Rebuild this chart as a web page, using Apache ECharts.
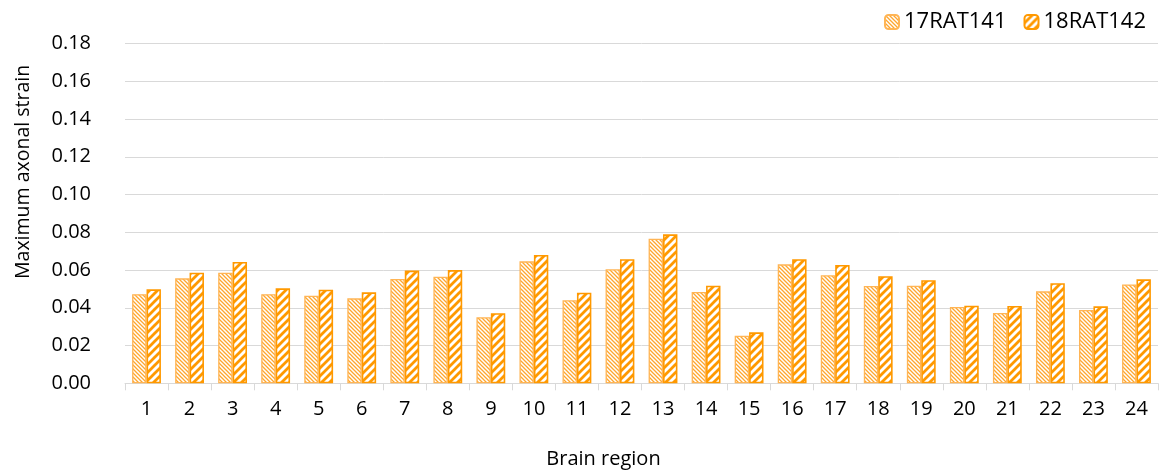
<!DOCTYPE html>
<html><head><meta charset="utf-8">
<script src="https://cdn.jsdelivr.net/npm/echarts@6/dist/echarts.min.js"></script>
<style>html,body{margin:0;padding:0;background:#fff}#c{width:1165px;height:473px}</style>
</head><body><div id="c"></div>
<script>
const categories = ['1','2','3','4','5','6','7','8','9','10','11','12','13','14','15','16','17','18','19','20','21','22','23','24'];
const rat141 = [0.0472,0.0556,0.0586,0.0472,0.0464,0.0450,0.0553,0.0565,0.0350,0.0646,0.0440,0.0604,0.0766,0.0484,0.0252,0.0630,0.0572,0.0516,0.0517,0.0404,0.0372,0.0487,0.0388,0.0524];
const rat142 = [0.0498,0.0586,0.0643,0.0503,0.0496,0.0482,0.0597,0.0600,0.0371,0.0680,0.0480,0.0657,0.0789,0.0517,0.0270,0.0657,0.0627,0.0567,0.0546,0.0411,0.0410,0.0530,0.0408,0.0551];
const seriesNames = ['17RAT141','18RAT142'];

function patA(){
  const c=document.createElement('canvas');c.width=4;c.height=4;const g=c.getContext('2d');
  g.fillStyle='#fff';g.fillRect(0,0,4,4);
  g.strokeStyle='#FFA62E';g.lineWidth=1.3;
  g.beginPath();g.moveTo(-1,-1);g.lineTo(5,5);g.moveTo(-1,3);g.lineTo(1,5);g.moveTo(3,-1);g.lineTo(5,1);g.stroke();
  return c;
}
function patB(){
  const s=8;const c=document.createElement('canvas');c.width=s;c.height=s;const g=c.getContext('2d');
  g.fillStyle='#fff';g.fillRect(0,0,s,s);
  g.strokeStyle='#FF9900';g.lineWidth=2.8;
  g.beginPath();
  for(let k=-1;k<=1;k++){g.moveTo(k*s-1,s+1);g.lineTo(k*s+s+1,-1);}
  g.stroke();
  return c;
}
const chart = echarts.init(document.getElementById('c'));
const font = 'Open Sans';
chart.setOption({
  animation:false,
  textStyle:{fontFamily:font},
  legend:{
    top:6,right:14,itemWidth:14,itemHeight:14,itemGap:17,
    textStyle:{fontSize:22,color:'#000',fontFamily:font},
    data:seriesNames
  },
  grid:{left:125,right:7,top:43.5,bottom:89.7,containLabel:false,outerBoundsMode:'none'},
  xAxis:{
    type:'category',data:categories,
    name:'Brain region',nameLocation:'middle',nameGap:66,
    nameTextStyle:{fontSize:20,color:'#000',fontFamily:font,padding:[0,76,0,0]},
    axisLine:{lineStyle:{color:'#d9d9d9'}},
    axisTick:{show:true,length:7,lineStyle:{color:'#d9d9d9'}},
    axisLabel:{fontSize:20,color:'#000',margin:16,fontFamily:font}
  },
  yAxis:{
    type:'value',min:0,max:0.18,interval:0.02,
    name:'Maximum axonal strain',nameLocation:'middle',nameGap:92,
    nameTextStyle:{fontSize:19.5,color:'#000',fontFamily:font,padding:[0,0,0,83]},
    axisLine:{show:false},axisTick:{show:false},
    splitLine:{lineStyle:{color:'#d9d9d9'}},
    axisLabel:{fontSize:20,color:'#000',margin:34,fontFamily:font,formatter:v=>v.toFixed(2)}
  },
  series:[
    {name:seriesNames[0],type:'bar',data:rat141,barGap:'0%',barCategoryGap:'33%',
     itemStyle:{color:{image:patA(),repeat:'repeat'},borderColor:'#FFB555',borderWidth:1.3}},
    {name:seriesNames[1],type:'bar',data:rat142,barGap:'0%',barCategoryGap:'33%',
     itemStyle:{color:{image:patB(),repeat:'repeat'},borderColor:'#FF9900',borderWidth:1.6}}
  ]
});
</script></body></html>
